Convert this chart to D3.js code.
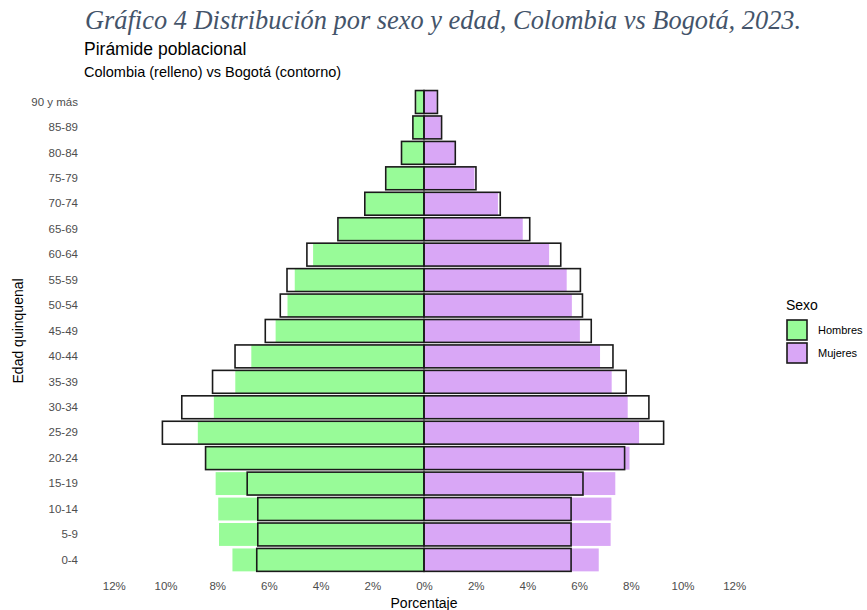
<!DOCTYPE html>
<html>
<head>
<meta charset="utf-8">
<script src="https://cdn.jsdelivr.net/npm/d3@7"></script>
<style>
  body { margin: 0; background: #fff; }
  text { font-family: "Liberation Sans", Arial, sans-serif; }
</style>
</head>
<body>
<script>
// grupos de edad, de arriba hacia abajo
var ages = ["90 y más", "85-89", "80-84", "75-79", "70-74", "65-69", "60-64", "55-59", "50-54",
            "45-49", "40-44", "35-39", "30-34", "25-29", "20-24", "15-19", "10-14", "5-9", "0-4"];

// Colombia (relleno), % por sexo
var colHombres = [0.30, 0.43, 0.87, 1.46, 2.27, 3.30, 4.29, 5.00, 5.28, 5.74, 6.68, 7.30, 8.13, 8.75, 8.45, 8.06, 7.96, 7.93, 7.41];
var colMujeres = [0.49, 0.65, 1.19, 1.95, 2.86, 3.82, 4.84, 5.52, 5.72, 6.03, 6.81, 7.26, 7.88, 8.32, 7.95, 7.40, 7.25, 7.22, 6.76];

// Bogotá (contorno)
var bogHombres = [0.33, 0.43, 0.87, 1.48, 2.29, 3.33, 4.53, 5.30, 5.56, 6.14, 7.31, 8.18, 9.37, 10.12, 8.45, 6.84, 6.43, 6.43, 6.47];
var bogMujeres = [0.52, 0.68, 1.21, 2.01, 2.95, 4.09, 5.29, 6.05, 6.13, 6.47, 7.31, 7.82, 8.70, 9.27, 7.76, 6.15, 5.69, 5.69, 5.69];

var xTicks = [-12, -10, -8, -6, -4, -2, 0, 2, 4, 6, 8, 10, 12];
var sexos = ["Hombres", "Mujeres"];

var width = 867;
var height = 610;

var svg = d3.select("body").append("svg")
            .attr("width", width)
            .attr("height", height);

var color = d3.scaleOrdinal().domain(sexos).range(["#98fb98", "#d9a7f6"]);

var x = d3.scaleLinear().domain([-12, 12]).range([113.8, 734.2]);
var y = d3.scaleBand().domain(ages).range([88, 573.9]).paddingInner(0.1).paddingOuter(0.1);

// titulos
svg.append("text")
   .attr("x", 85).attr("y", 29)
   .style("font-family", "'Liberation Serif', 'DejaVu Serif', serif")
   .style("font-style", "italic")
   .style("font-size", "26.4px")
   .attr("fill", "#44546a")
   .text("Gráfico 4 Distribución por sexo y edad, Colombia vs Bogotá, 2023.");

svg.append("text")
   .attr("x", 84).attr("y", 55)
   .style("font-size", "17.5px")
   .attr("fill", "#000")
   .text("Pirámide poblacional");

svg.append("text")
   .attr("x", 84).attr("y", 77)
   .style("font-size", "14.5px")
   .attr("fill", "#000")
   .text("Colombia (relleno) vs Bogotá (contorno)");

// datos largos
var fillData = [];
var lineData = [];
ages.forEach(function(a, i) {
    fillData.push({age: a, sexo: "Hombres", v: -colHombres[i]});
    fillData.push({age: a, sexo: "Mujeres", v: colMujeres[i]});
    lineData.push({age: a, sexo: "Hombres", v: -bogHombres[i]});
    lineData.push({age: a, sexo: "Mujeres", v: bogMujeres[i]});
});

// barras Colombia
svg.append("g").selectAll("rect")
   .data(fillData)
   .enter().append("rect")
   .attr("x", function(d) { return x(Math.min(0, d.v)); })
   .attr("width", function(d) { return Math.abs(x(d.v) - x(0)); })
   .attr("y", function(d) { return y(d.age); })
   .attr("height", y.bandwidth())
   .attr("fill", function(d) { return color(d.sexo); });

// contornos Bogotá
svg.append("g").selectAll("rect")
   .data(lineData)
   .enter().append("rect")
   .attr("x", function(d) { return x(Math.min(0, d.v)); })
   .attr("width", function(d) { return Math.abs(x(d.v) - x(0)); })
   .attr("y", function(d) { return y(d.age); })
   .attr("height", y.bandwidth())
   .attr("fill", "none")
   .attr("stroke", "#1a1a1a")
   .attr("stroke-width", 1.6);

// eje y
var yAxis = svg.append("g")
   .attr("transform", "translate(" + 113 + ",0)")
   .call(d3.axisLeft(y).tickSize(0).tickPadding(35));
yAxis.select(".domain").remove();
yAxis.selectAll("text")
   .style("font-size", "11.5px")
   .attr("fill", "#4d4d4d");

// eje x
var xAxis = svg.append("g")
   .attr("transform", "translate(0," + 574 + ")")
   .call(d3.axisBottom(x).tickValues(xTicks).tickSize(0).tickPadding(8)
           .tickFormat(function(d) { return Math.abs(d) + "%"; }));
xAxis.select(".domain").remove();
xAxis.selectAll("text")
   .style("font-size", "11.5px")
   .attr("fill", "#4d4d4d");

// titulos de ejes
svg.append("text")
   .attr("x", x(0)).attr("y", 608)
   .attr("text-anchor", "middle")
   .style("font-size", "14px")
   .text("Porcentaje");

svg.append("text")
   .attr("transform", "translate(23," + ((88 + 573.9) / 2) + ") rotate(-90)")
   .attr("text-anchor", "middle")
   .style("font-size", "14px")
   .text("Edad quinquenal");

// leyenda
var legend = svg.append("g").attr("transform", "translate(786,296)");
legend.append("text")
   .attr("x", 0).attr("y", 14)
   .style("font-size", "14px")
   .text("Sexo");

var keys = legend.selectAll(".key")
   .data(sexos)
   .enter().append("g")
   .attr("class", "key")
   .attr("transform", function(d, i) { return "translate(1," + (24 + i * 23) + ")"; });

keys.append("rect")
   .attr("width", 20)
   .attr("height", 20)
   .attr("fill", function(d) { return color(d); })
   .attr("stroke", "#1a1a1a")
   .attr("stroke-width", 1.6);

keys.append("text")
   .attr("x", 31).attr("y", 14)
   .style("font-size", "11px")
   .text(function(d) { return d; });
</script>
</body>
</html>
